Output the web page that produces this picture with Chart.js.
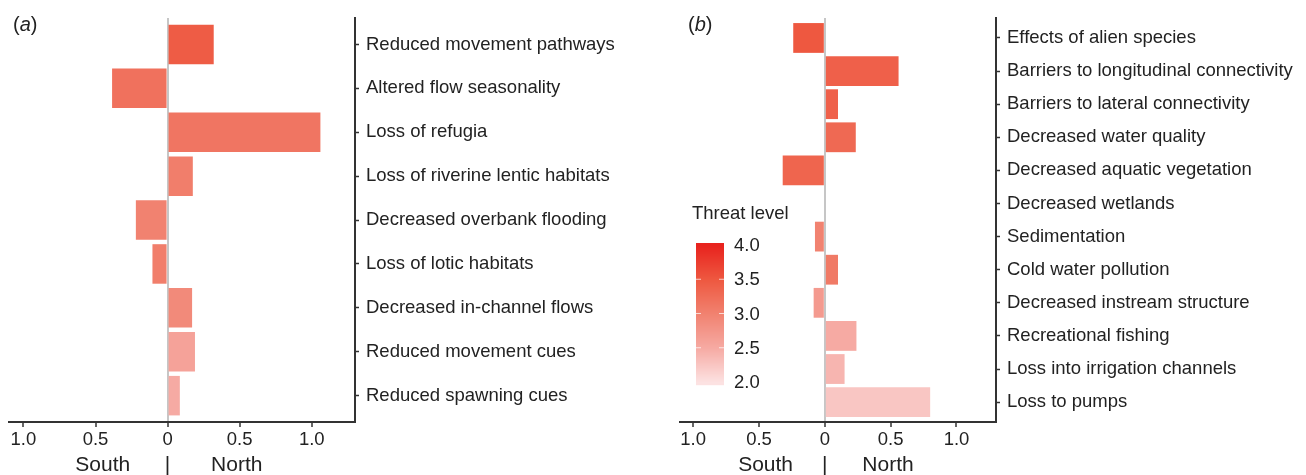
<!DOCTYPE html>
<html>
<head>
<meta charset="utf-8">
<script src="https://cdn.jsdelivr.net/npm/chart.js@4.4.0/dist/chart.umd.min.js"></script>
<style>
  body { margin: 0; background: #fff; }
  #wrap { position: relative; width: 1306px; height: 475px; }
  canvas { position: absolute; top: 0; }
</style>
</head>
<body>
<div id="wrap">
  <canvas id="chart-a" width="650" height="475" style="left:0"></canvas>
  <canvas id="chart-b" width="656" height="475" style="left:650px"></canvas>
</div>
<script>
// panel (a) - negative = South, positive = North
const threatsA = [
  'Reduced movement pathways', 'Altered flow seasonality', 'Loss of refugia',
  'Loss of riverine lentic habitats', 'Decreased overbank flooding', 'Loss of lotic habitats',
  'Decreased in-channel flows', 'Reduced movement cues', 'Reduced spawning cues'
];
const valuesA = [0.32, -0.385, 1.06, 0.175, -0.22, -0.105, 0.17, 0.19, 0.085];
const levelsA = [3.45, 3.2, 3.15, 3.05, 3.0, 3.05, 2.9, 2.6, 2.5];

// panel (b)
const threatsB = [
  'Effects of alien species', 'Barriers to longitudinal connectivity', 'Barriers to lateral connectivity',
  'Decreased water quality', 'Decreased aquatic vegetation', 'Decreased wetlands', 'Sedimentation',
  'Cold water pollution', 'Decreased instream structure', 'Recreational fishing',
  'Loss into irrigation channels', 'Loss to pumps'
];
const valuesB = [-0.24, 0.56, 0.10, 0.235, -0.32, 0, -0.075, 0.10, -0.085, 0.24, 0.15, 0.80];
const levelsB = [3.5, 3.4, 3.4, 3.3, 3.35, 2.0, 3.0, 3.1, 2.7, 2.5, 2.4, 2.25];

const xTicks = [-1, -0.5, 0, 0.5, 1];
const legendTicks = [4.0, 3.5, 3.0, 2.5, 2.0];

const FONT = '"Liberation Sans", Arial, Helvetica, sans-serif';
const TEXT = '#222';
const AXIS = '#333';

// threat level -> fill colour
const rampStops = [
  [2.0, [252, 226, 226]],
  [2.5, [246, 170, 163]],
  [3.0, [241, 130, 112]],
  [3.5, [238, 88, 64]],
  [4.0, [232, 35, 30]]
];
function threatColor(v) {
  if (v <= rampStops[0][0]) return 'rgb(' + rampStops[0][1].join(',') + ')';
  for (let i = 1; i < rampStops.length; i++) {
    const [v1, c1] = rampStops[i];
    const [v0, c0] = rampStops[i - 1];
    if (v <= v1) {
      const t = (v - v0) / (v1 - v0);
      const c = c0.map((k, j) => Math.round(k + (c1[j] - k) * t));
      return 'rgb(' + c.join(',') + ')';
    }
  }
  return 'rgb(' + rampStops[rampStops.length - 1][1].join(',') + ')';
}

const decorPlugin = {
  id: 'decor',
  afterDraw(chart, args, opts) {
    const ctx = chart.ctx;
    const x = chart.scales.x;
    const area = chart.chartArea;
    ctx.save();
    ctx.fillStyle = TEXT;

    // South | North
    ctx.font = '21px ' + FONT;
    ctx.textAlign = 'center';
    ctx.textBaseline = 'middle';
    const yy = area.bottom + 43;
    ctx.fillText('South', x.getPixelForValue(-0.45), yy);
    ctx.fillText('North', x.getPixelForValue(0.48), yy);
    ctx.fillText('|', x.getPixelForValue(0), yy);

    // panel letter
    ctx.textAlign = 'left';
    ctx.font = '20px ' + FONT;
    let px = opts.labelX;
    const py = 25;
    ctx.fillText('(', px, py);
    px += ctx.measureText('(').width;
    ctx.font = 'italic 20px ' + FONT;
    ctx.fillText(opts.letter, px, py);
    px += ctx.measureText(opts.letter).width;
    ctx.font = '20px ' + FONT;
    ctx.fillText(')', px, py);

    if (opts.legend) {
      const lx = 46, lw = 28, top = 245, bottom = 382;
      ctx.font = '18.5px ' + FONT;
      ctx.textBaseline = 'middle';
      ctx.fillText('Threat level', 42, 214);
      const span = bottom - top;
      for (let p = -2; p <= span + 2; p++) {
        const v = 4 - 2 * (p / span);
        ctx.fillStyle = threatColor(Math.min(4, Math.max(2, v)));
        ctx.fillRect(lx, top + p, lw, 1.2);
      }
      ctx.strokeStyle = 'rgba(255,255,255,0.7)';
      ctx.lineWidth = 1;
      legendTicks.forEach(t => {
        const ty = top + (4 - t) / 2 * span;
        if (t < 4 && t > 2) {
          ctx.beginPath();
          ctx.moveTo(lx, ty); ctx.lineTo(lx + 5, ty);
          ctx.moveTo(lx + lw - 5, ty); ctx.lineTo(lx + lw, ty);
          ctx.stroke();
        }
        ctx.fillStyle = TEXT;
        ctx.fillText(t.toFixed(1), 84, ty + 1);
      });
    }
    ctx.restore();
  }
};

function makeChart(id, labels, values, levels, o) {
  const ctx = document.getElementById(id).getContext('2d');
  return new Chart(ctx, {
    type: 'bar',
    data: {
      datasets: [{
        data: values.map((v, i) => ({ x: v, y: i })),
        backgroundColor: levels.map(threatColor),
        borderWidth: 0,
        barPercentage: 1,
        categoryPercentage: 0.9
      }]
    },
    options: {
      indexAxis: 'y',
      responsive: false,
      animation: false,
      layout: { padding: { left: o.padLeft, top: 15, right: 0, bottom: 0 } },
      plugins: {
        legend: { display: false },
        tooltip: { enabled: false },
        decor: { letter: o.letter, labelX: o.labelX, legend: o.legend }
      },
      scales: {
        x: {
          type: 'linear',
          min: -1.1,
          max: 1.3,
          afterBuildTicks: s => { s.ticks = xTicks.map(v => ({ value: v })); },
          afterFit: s => { s.height = 53; },
          ticks: {
            autoSkip: false,
            maxRotation: 0,
            padding: 2,
            color: TEXT,
            font: { family: FONT, size: 18.5 },
            callback: v => (v === 0 ? '0' : Math.abs(v).toFixed(1))
          },
          grid: {
            drawOnChartArea: true,
            color: c => (c.tick && c.tick.value === 0 ? '#c6c6c6' : 'rgba(0,0,0,0)'),
            lineWidth: 2,
            tickColor: AXIS,
            tickWidth: 1.5,
            tickLength: 5
          },
          border: { display: true, color: AXIS, width: 2 }
        },
        y: {
          type: 'linear',
          position: 'right',
          reverse: true,
          offset: false,
          min: -0.6,
          max: labels.length - 0.4,
          afterBuildTicks: s => { s.ticks = labels.map((_, i) => ({ value: i })); },
          afterFit: s => { s.width = o.axisWidth; },
          ticks: {
            autoSkip: false,
            padding: 7,
            color: TEXT,
            font: { family: FONT, size: 18.5 },
            callback: v => labels[v]
          },
          grid: {
            offset: false,
            drawOnChartArea: false,
            tickColor: AXIS,
            tickWidth: 1.5,
            tickLength: 4
          },
          border: { display: true, color: AXIS, width: 2 }
        }
      }
    },
    plugins: [decorPlugin]
  });
}

makeChart('chart-a', threatsA, valuesA, levelsA,
  { padLeft: 9, axisWidth: 295, letter: 'a', labelX: 13, legend: false });
makeChart('chart-b', threatsB, valuesB, levelsB,
  { padLeft: 30, axisWidth: 310, letter: 'b', labelX: 38, legend: true });
</script>
</body>
</html>
